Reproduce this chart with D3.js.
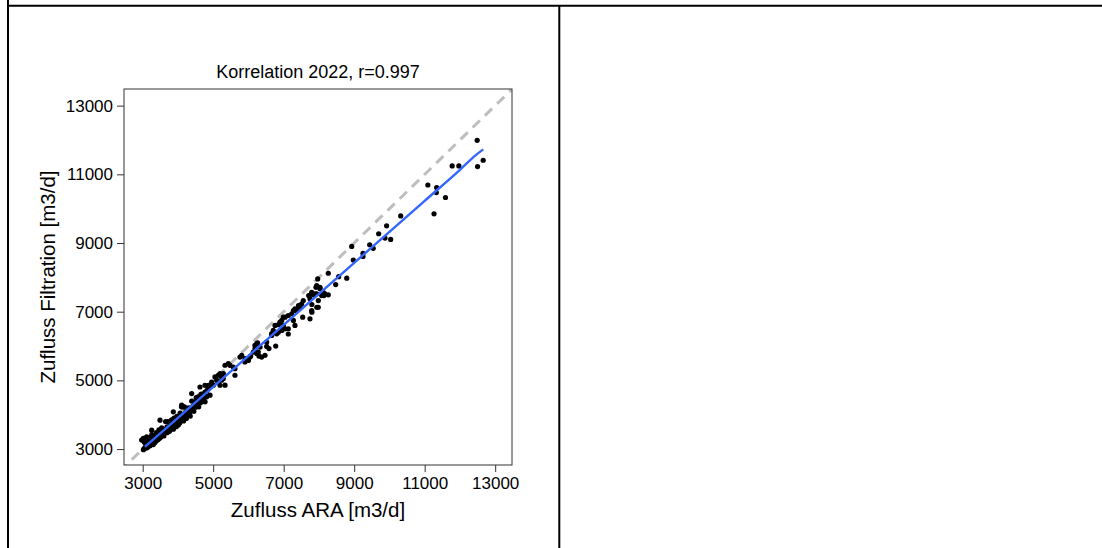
<!DOCTYPE html>
<html lang="de">
<head>
<meta charset="UTF-8">
<title>Korrelation 2022</title>
<script src="https://d3js.org/d3.v7.min.js"></script>
<style>
    body { margin: 0; background: #fff; }
    svg { display: block; font-family: Arial, "Liberation Sans", sans-serif; }
</style>
</head>
<body>
<svg width="1102" height="548"></svg>
<script>
    // Zufluss ARA (x) / Zufluss Filtration (y), m3/d
    const points = [
        [3020,2980],[3040,3010],[3050,3200],[3060,3280],[3080,3050],[3090,3120],[3100,3300],[3110,3030],
        [3130,3090],[3140,3180],[3150,3060],[3160,3250],[3180,3120],[3200,3340],[3210,3100],[3230,3200],
        [3250,3150],[3260,3420],[3280,3270],[3300,3130],[3310,3220],[3330,3380],[3350,3190],[3370,3300],
        [3390,3480],[3400,3250],[3420,3350],[3440,3280],[3460,3560],[3470,3400],[3490,3320],[3500,3450],
        [3520,3360],[3540,3620],[3560,3420],[3580,3500],[3600,3380],[3620,3560],[3640,3470],[3650,3800],
        [3670,3560],[3690,3650],[3700,3480],[3720,3800],[3740,3600],[3760,3520],[3780,3700],[3800,3600],
        [3820,3850],[3840,3680],[3860,3740],[3870,3580],[3890,3900],[3910,3720],[3930,3800],[3950,3650],
        [3970,3950],[3990,3780],[4010,3700],[4030,3880],[4050,3760],[4060,4050],[4080,3840],[4100,4230],
        [4120,3900],[4140,4000],[4160,3820],[4180,4230],[4200,3960],[4220,4080],[4240,3890],[4260,4100],
        [4290,4000],[4310,4200],[4330,4060],[4350,3960],[4370,4180],[4390,4400],[4410,4150],[4430,4260],
        [4450,4100],[4480,4350],[4500,4220],[4520,4500],[4540,4300],[4560,4420],[4590,4230],[4610,4480],
        [4640,4350],[4660,4600],[4690,4460],[4710,4550],[4730,4420],[4760,4650],[4790,4560],[4820,4700],
        [2970,3261],[3018,3311],[3113,3357],[3255,3551],[3491,3842],[3869,4083],[4106,4277],[4153,4228],
        [4390,4617],[4625,4808],[4767,4858],[4862,4858],[4957,4953],[4675,4570],[4580,4520],[4530,4420],
        [4910,4570],[4815,4520],[4770,4375],[4625,4420],
        [5005,4860],[4910,4810],[4860,4760],[5050,5100],[5100,5005],[5145,5150],[5145,4955],[5195,5200],
        [5240,5005],[5290,5200],[5335,4860],[5335,5440],[5430,5490],[5570,5390],[5617,5342],[5475,5438],
        [5240,5099],[5287,5052],[5193,4858],[5618,5150],[5760,5680],[5810,5730],[5900,5535],[5995,5585],
        [6045,5680],[6235,5780],[6280,5825],[6185,6020],[6260,6090],[6330,5970],[6375,5680],[6470,5730],
        [6583,5925],[6773,6000],[6518,5990],[5902,5633],[5996,5583],[6064,5708],[6299,5708],[6518,6115],
        [6138,5824],[6186,5923],[6234,6068],
        [6660,6310],[6660,6360],[6800,6355],[7130,6350],[6850,6405],[6945,6455],[6705,6455],[6990,6600],
        [7040,6500],[6755,6600],[6895,6695],[6945,6745],[6990,6840],[7040,6840],[7130,6890],[7275,6745],
        [7540,6840],[7230,6940],[7275,7035],[7320,7035],[7370,7055],[7320,7083],[7460,7130],[7420,7180],
        [7460,7180],[7510,7230],[7556,7325],[7800,6985],[7940,7130],[7980,7130],[7800,7210],[7746,7374],
        [7710,7470],[7840,7490],[7795,7520],[7890,7520],[7936,7520],[8078,7470],[8140,7470],[8170,7520],
        [8265,7490],[8123,7566],[7794,7566],[7936,7757],[8030,7665],[7915,7710],[8030,7710],[7965,7955],
        [8265,8120],[8475,7790],[8560,8020],[8790,7975],[7983,7325],[7794,7035],[7320,6600],[7746,6793],
        [6847,6620],[7131,6503],
        [8930,8900],[8975,8505],[9250,8700],[9250,8610],[9440,8950],[9540,8845],[9695,9270],[9875,9145],
        [10035,9105],[9920,9500],[10320,9790],[11090,10690],[11265,9850],[11340,10615],[11330,10470],
        [11590,10325],[11780,11245],[11970,11245],[12490,11990],[12500,11225],[12660,11410]
    ];

    // smoothed fit
    const fitX = [3065, 4000, 5000, 6000, 7000, 8000, 9000, 10000, 11000, 12000, 12450, 12662];
    const fitY = [3067, 3911, 4813, 5716, 6618, 7521, 8423, 9326, 10228, 11131, 11560, 11728];

    const xTicks = [3000, 5000, 7000, 9000, 11000, 13000];
    const yTicks = [3000, 5000, 7000, 9000, 11000, 13000];

    const title = "Korrelation 2022, r=0.997";
    const xTitle = "Zufluss ARA [m3/d]";
    const yTitle = "Zufluss Filtration [m3/d]";

    const svg = d3.select("svg");

    // page frame lines
    svg.append("line").attr("x1", 8).attr("x2", 1102).attr("y1", 5.8).attr("y2", 5.8)
        .attr("stroke", "#000").attr("stroke-width", 2);
    svg.append("line").attr("x1", 8).attr("x2", 8).attr("y1", 0).attr("y2", 548)
        .attr("stroke", "#000").attr("stroke-width", 2);
    svg.append("line").attr("x1", 559.3).attr("x2", 559.3).attr("y1", 5).attr("y2", 548)
        .attr("stroke", "#000").attr("stroke-width", 2);

    const pLeft = 124, pRight = 512, pTop = 89, pBottom = 465;
    const x = d3.scaleLinear().domain([2470, 13477]).range([pLeft, pRight]);
    const y = d3.scaleLinear().domain([2536, 13485]).range([pBottom, pTop]);

    svg.append("clipPath").attr("id", "panel")
        .append("rect").attr("x", pLeft).attr("y", pTop)
        .attr("width", pRight - pLeft).attr("height", pBottom - pTop);

    const plot = svg.append("g").attr("clip-path", "url(#panel)");

    // 1:1 line
    plot.append("line")
        .attr("x1", x(2000)).attr("y1", y(2000))
        .attr("x2", x(14000)).attr("y2", y(14000))
        .attr("stroke", "#bebebe").attr("stroke-width", 3)
        .attr("stroke-dasharray", "10,7");

    plot.selectAll("circle")
        .data(points)
        .enter()
        .append("circle")
        .attr("cx", d => x(d[0]))
        .attr("cy", d => y(d[1]))
        .attr("r", 2.6)
        .attr("fill", "#000");

    const line = d3.line().x(d => x(d[0])).y(d => y(d[1])).curve(d3.curveMonotoneX);
    plot.append("path")
        .datum(fitX.map((v, i) => [v, fitY[i]]))
        .attr("d", line)
        .attr("fill", "none")
        .attr("stroke", "#3366ff")
        .attr("stroke-width", 2.4);

    svg.append("rect")
        .attr("x", pLeft).attr("y", pTop)
        .attr("width", pRight - pLeft).attr("height", pBottom - pTop)
        .attr("fill", "none").attr("stroke", "#333").attr("stroke-width", 1);

    const xAxis = svg.append("g")
        .attr("transform", `translate(0,${pBottom})`)
        .call(d3.axisBottom(x).tickValues(xTicks).tickFormat(d3.format("d")).tickSize(7).tickPadding(5));
    const yAxis = svg.append("g")
        .attr("transform", `translate(${pLeft},0)`)
        .call(d3.axisLeft(y).tickValues(yTicks).tickFormat(d3.format("d")).tickSize(7).tickPadding(4));

    [xAxis, yAxis].forEach(a => {
        a.select(".domain").remove();
        a.selectAll(".tick line").attr("stroke", "#333");
        a.selectAll(".tick text").attr("fill", "#000").style("font-size", "17px")
            .style("font-family", "Arial, 'Liberation Sans', sans-serif");
    });

    svg.append("text")
        .attr("x", (pLeft + pRight) / 2).attr("y", 78)
        .attr("text-anchor", "middle")
        .style("font-size", "18px")
        .text(title);

    svg.append("text")
        .attr("x", (pLeft + pRight) / 2).attr("y", 517)
        .attr("text-anchor", "middle")
        .style("font-size", "20.5px")
        .text(xTitle);

    svg.append("text")
        .attr("transform", `translate(55,${(pTop + pBottom) / 2}) rotate(-90)`)
        .attr("text-anchor", "middle")
        .style("font-size", "20.5px")
        .text(yTitle);
</script>
</body>
</html>
